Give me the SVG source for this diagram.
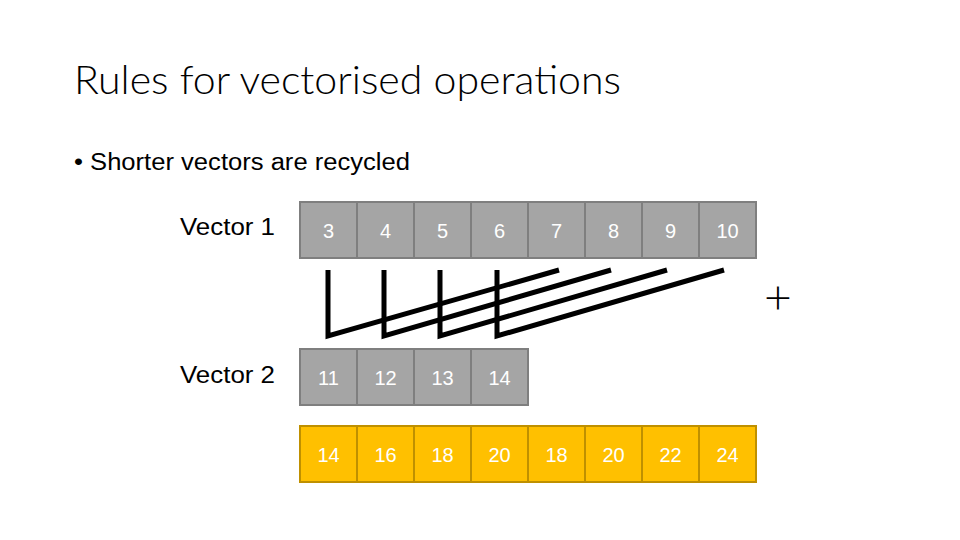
<svg xmlns="http://www.w3.org/2000/svg" width="960" height="540" viewBox="0 0 960 540">
<style>
.t{font-family:"Liberation Sans","DejaVu Sans",sans-serif;fill:#000}
.h{font-family:"Lato","Liberation Sans",sans-serif;font-weight:300;fill:#000}
.g rect{fill:#a5a5a5;stroke:#7f7f7f;stroke-width:2}
.y rect{fill:#ffc000;stroke:#bf9000;stroke-width:2}
.n{font-family:"Liberation Sans","DejaVu Sans",sans-serif;font-size:20px;fill:#fff;text-anchor:middle}
.c{fill:none;stroke:#000;stroke-width:5;stroke-linecap:butt;stroke-linejoin:miter}
</style>
<rect width="960" height="540" fill="#fff"/>
<text class="h" x="74" y="94" font-size="39" textLength="547" lengthAdjust="spacingAndGlyphs">Rules for vectorised operations</text>
<text class="t" x="74" y="170" font-size="23" textLength="336" lengthAdjust="spacingAndGlyphs">• Shorter vectors are recycled</text>
<text class="t" x="180" y="235" font-size="23" textLength="95" lengthAdjust="spacingAndGlyphs">Vector 1</text>
<text class="t" x="180" y="383" font-size="23" textLength="95" lengthAdjust="spacingAndGlyphs">Vector 2</text>
<text class="h" x="778" y="314" font-size="48" text-anchor="middle">+</text>
<g id="vector1" class="g">
<rect x="300" y="202" width="57" height="56"/><rect x="357" y="202" width="57" height="56"/><rect x="414" y="202" width="57" height="56"/><rect x="471" y="202" width="57" height="56"/><rect x="528" y="202" width="57" height="56"/><rect x="585" y="202" width="57" height="56"/><rect x="642" y="202" width="57" height="56"/><rect x="699" y="202" width="57" height="56"/>
<text class="n" x="328.5" y="238">3</text><text class="n" x="385.5" y="238">4</text><text class="n" x="442.5" y="238">5</text><text class="n" x="499.5" y="238">6</text><text class="n" x="556.5" y="238">7</text><text class="n" x="613.5" y="238">8</text><text class="n" x="670.5" y="238">9</text><text class="n" x="727.5" y="238">10</text>
</g>
<g id="vector2" class="g">
<rect x="300" y="349" width="57" height="56"/><rect x="357" y="349" width="57" height="56"/><rect x="414" y="349" width="57" height="56"/><rect x="471" y="349" width="57" height="56"/>
<text class="n" x="328.5" y="385">11</text><text class="n" x="385.5" y="385">12</text><text class="n" x="442.5" y="385">13</text><text class="n" x="499.5" y="385">14</text>
</g>
<g id="result" class="y">
<rect x="300" y="426" width="57" height="56"/><rect x="357" y="426" width="57" height="56"/><rect x="414" y="426" width="57" height="56"/><rect x="471" y="426" width="57" height="56"/><rect x="528" y="426" width="57" height="56"/><rect x="585" y="426" width="57" height="56"/><rect x="642" y="426" width="57" height="56"/><rect x="699" y="426" width="57" height="56"/>
<text class="n" x="328.5" y="462">14</text><text class="n" x="385.5" y="462">16</text><text class="n" x="442.5" y="462">18</text><text class="n" x="499.5" y="462">20</text><text class="n" x="556.5" y="462">18</text><text class="n" x="613.5" y="462">20</text><text class="n" x="670.5" y="462">22</text><text class="n" x="727.5" y="462">24</text>
</g>
<g id="connectors">
<path class="c" d="M328 270 L328 336 L559 270"/>
<path class="c" d="M384 270 L384 336 L611 270"/>
<path class="c" d="M440 270 L440 336 L667 270"/>
<path class="c" d="M497 270 L497 336 L724 270"/>
</g>
</svg>
